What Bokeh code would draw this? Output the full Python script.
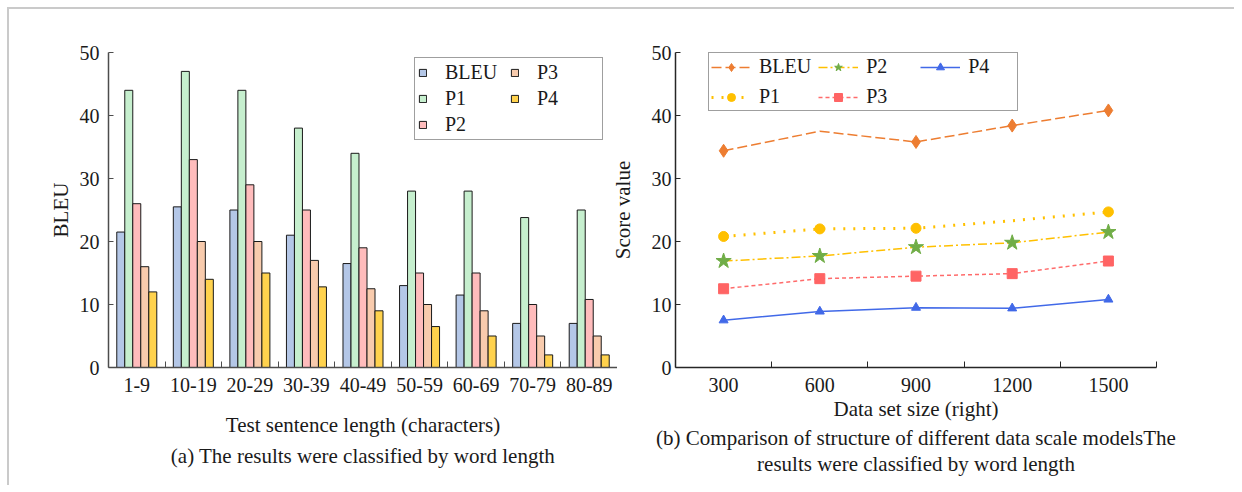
from bokeh.plotting import figure
from bokeh.models import (Range1d, FixedTicker, Legend, LegendItem, Title,
                          ColumnDataSource, CDSView, BooleanFilter)
from bokeh.layouts import row
from bokeh.embed import file_html
from bokeh.resources import INLINE

# ---------------- data: panel (a) ----------------
lengths = ["1-9", "10-19", "20-29", "30-39", "40-49", "50-59", "60-69", "70-79", "80-89"]
bar_series = ["BLEU", "P1", "P2", "P3", "P4"]
bleu_a = [21.5, 25.5, 25.0, 21.0, 16.5, 13.0, 11.5, 7.0, 7.0]
p1_a = [44.0, 47.0, 44.0, 38.0, 34.0, 28.0, 28.0, 23.8, 25.0]
p2_a = [26.0, 33.0, 29.0, 25.0, 19.0, 15.0, 15.0, 10.0, 10.8]
p3_a = [16.0, 20.0, 20.0, 17.0, 12.5, 10.0, 9.0, 5.0, 5.0]
p4_a = [12.0, 14.0, 15.0, 12.8, 9.0, 6.5, 5.0, 2.0, 2.0]

# ---------------- data: panel (b) ----------------
sizes = ["300", "600", "900", "1200", "1500"]
line_series = ["BLEU", "P1", "P2", "P3", "P4"]
bleu_b = [34.4, 37.5, 35.8, 38.4, 40.8]
p1_b = [20.8, 22.0, 22.1, 23.3, 24.7]
p2_b = [16.9, 17.7, 19.1, 19.8, 21.5]
p3_b = [12.5, 14.1, 14.5, 14.9, 16.9]
p4_b = [7.5, 8.9, 9.5, 9.4, 10.8]
bleu_b_marked = [True, False, True, True, True]
p1_b_marked = [True, True, True, False, True]

y_ticks = [0, 10, 20, 30, 40, 50]

FONT = "Liberation Serif"
TXT = "#1a1a1a"


def style_axes(p, axis_color):
    p.xgrid.grid_line_color = None
    p.ygrid.grid_line_color = None
    p.outline_line_color = None
    for ax in (p.xaxis[0], p.yaxis[0]):
        ax.axis_line_color = axis_color
        ax.axis_line_width = 1.5
        ax.major_label_text_font = FONT
        ax.major_label_text_font_size = "20px"
        ax.major_label_text_color = TXT
        ax.axis_label_text_font = FONT
        ax.axis_label_text_font_size = "21px"
        ax.axis_label_text_font_style = "normal"
        ax.axis_label_text_color = TXT
        ax.minor_tick_line_color = axis_color
    p.yaxis.ticker = FixedTicker(ticks=y_ticks)
    p.yaxis.major_tick_in = 5
    p.yaxis.major_tick_out = 0
    p.yaxis.major_tick_line_color = axis_color
    p.yaxis.minor_tick_line_color = None
    p.yaxis.major_label_standoff = 9
    p.xaxis.major_tick_line_color = None
    p.xaxis.major_tick_in = 0
    p.xaxis.major_tick_out = 0
    p.xaxis.minor_tick_in = 6
    p.xaxis.minor_tick_out = 0
    p.xaxis.major_label_standoff = 10


def caption(text, standoff=0):
    return Title(text=text, align="center", text_font=FONT, text_font_size="21px",
                 text_font_style="normal", text_color=TXT, standoff=standoff)


# ---------------- panel (a): grouped bars ----------------
pa = figure(width=608, height=476, x_range=Range1d(0, len(lengths)), y_range=Range1d(0, 50),
            output_backend="svg", toolbar_location=None,
            min_border_left=99, min_border_right=0, min_border_top=43, min_border_bottom=118)
style_axes(pa, "#4d4d4d")
pa.xaxis.ticker = FixedTicker(ticks=[i + 0.5 for i in range(len(lengths))],
                              minor_ticks=list(range(1, len(lengths) + 1)))
pa.xaxis.major_label_overrides = {i + 0.5: lab for i, lab in enumerate(lengths)}
pa.xaxis.axis_label = "Test sentence length (characters)"
pa.yaxis.axis_label = "BLEU"
pa.yaxis.axis_label_standoff = 4
pa.xaxis.axis_label_standoff = 18

bar_colors = ["#b4c7e7", "#c6efce", "#ffbcbc", "#f8cbad", "#ffd24d"]
bar_values = [bleu_a, p1_a, p2_a, p3_a, p4_a]
bw = 0.1415
bar_items = {}
for k, (name, vals, col) in enumerate(zip(bar_series, bar_values, bar_colors)):
    xs = [i + 0.5 + (k - 2) * bw for i in range(len(lengths))]
    r = pa.vbar(x=xs, top=vals, width=bw, bottom=0, fill_color=col,
                line_color="#1a1a1a", line_width=1)
    bar_items[name] = r

leg_a = Legend(items=[LegendItem(label=n, renderers=[bar_items[n]]) for n in bar_series],
               location=(306, 227), nrows=3,
               label_text_font=FONT, label_text_font_size="20px", label_text_color=TXT,
               glyph_width=9, glyph_height=9, label_standoff=18, label_height=20,
               label_width=62, spacing=3, padding=3, margin=0,
               border_line_color="#404040", border_line_width=1.5,
               background_fill_alpha=1.0)
pa.add_layout(leg_a, "center")
pa.add_layout(caption("(a) The results were classified by word length", standoff=5), "below")

# ---------------- panel (b): lines ----------------
pb = figure(width=627, height=476, x_range=Range1d(0, len(sizes)), y_range=Range1d(0, 50),
            output_backend="svg", toolbar_location=None,
            min_border_left=65, min_border_right=78, min_border_top=43, min_border_bottom=117,
            styles={"margin-left": "-10px"})
style_axes(pb, "#262626")
pb.border_fill_color = None
pb.background_fill_color = None
pb.xaxis.ticker = FixedTicker(ticks=[i + 0.5 for i in range(len(sizes))],
                              minor_ticks=list(range(1, len(sizes) + 1)))
pb.xaxis.major_label_overrides = {i + 0.5: lab for i, lab in enumerate(sizes)}
pb.xaxis.axis_label = "Data set size (right)"
pb.yaxis.axis_label = "Score value"
pb.yaxis.axis_label_standoff = 14
pb.yaxis.major_label_standoff = 4
pb.xaxis.axis_label_standoff = 2

xs_b = [i + 0.5 for i in range(len(sizes))]
src = ColumnDataSource(dict(x=xs_b, bleu=bleu_b, p1=p1_b, p2=p2_b, p3=p3_b, p4=p4_b))

l_bleu = pb.line("x", "bleu", source=src, line_color="#ed7d31", line_width=1.5, line_dash="10 4")
m_bleu = pb.scatter("x", "bleu", source=src, view=CDSView(filter=BooleanFilter(bleu_b_marked)),
                    marker="diamond", size=13, fill_color="#ed7d31", line_color="#ed7d31")
l_p1 = pb.line("x", "p1", source=src, line_color="#ffc000", line_width=3, line_dash="2 8")
m_p1 = pb.scatter("x", "p1", source=src, view=CDSView(filter=BooleanFilter(p1_b_marked)),
                  marker="circle", size=10, fill_color="#ffc000", line_color="#ffc000")
l_p2 = pb.line("x", "p2", source=src, line_color="#ffc000", line_width=1.5, line_dash="9 3 2 3")
m_p2 = pb.scatter("x", "p2", source=src, marker="star", size=16,
                  fill_color="#70ad47", line_color="#70ad47")
l_p3 = pb.line("x", "p3", source=src, line_color="#ff6b6b", line_width=1.5, line_dash="4 3")
m_p3 = pb.scatter("x", "p3", source=src, marker="square", size=10,
                  fill_color="#ff6464", line_color="#ff6464")
l_p4 = pb.line("x", "p4", source=src, line_color="#4169e8", line_width=1.5)
m_p4 = pb.scatter("x", "p4", source=src, marker="triangle", size=9,
                  fill_color="#4169e8", line_color="#4169e8")

rend = {"BLEU": [l_bleu, m_bleu], "P1": [l_p1, m_p1], "P2": [l_p2, m_p2],
        "P3": [l_p3, m_p3], "P4": [l_p4, m_p4]}
leg_b = Legend(items=[LegendItem(label=n, renderers=rend[n]) for n in line_series],
               location=(33, 256), nrows=2,
               label_text_font=FONT, label_text_font_size="20px", label_text_color=TXT,
               glyph_width=40, glyph_height=20, label_standoff=8, label_height=20,
               label_width=47, spacing=7, padding=2, margin=0,
               border_line_color="#404040", border_line_width=1.5,
               background_fill_color="white", background_fill_alpha=1.0)
pb.add_layout(leg_b, "center")
pb.add_layout(caption("(b) Comparison of structure of different data scale modelsThe"), "below")
pb.add_layout(caption("results were classified by word length"), "below")

layout = row(pa, pb, styles={"margin": "7px 0 0 7px",
                             "border-top": "2px solid #cacaca",
                             "border-left": "2px solid #cacaca"})

open("out.html", "w").write(file_html(layout, INLINE))
